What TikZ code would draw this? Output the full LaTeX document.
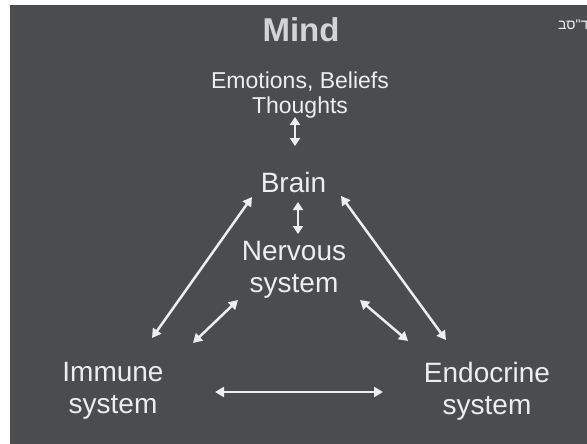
\documentclass[tikz,border=0pt]{standalone}
\usepackage{fontspec}
\setmainfont{Liberation Sans}
\newfontfamily\hebfont[Script=Hebrew]{Liberation Sans}
\usetikzlibrary{arrows.meta}
\definecolor{bgc}{HTML}{4B4C4E}
\definecolor{txc}{HTML}{EDEDED}
\definecolor{mindc}{HTML}{D4D4D4}
\tikzset{
  lbl/.style={text=txc, align=center, inner sep=0pt, font=\fontsize{28}{32}\selectfont},
  small/.style={text=txc, align=center, inner sep=0pt, font=\fontsize{23}{24.5}\selectfont},
  link/.style={draw=txc, line width=2.5pt, {Triangle[length=9pt,width=10pt]}-{Triangle[length=9pt,width=10pt]}},
  shortlink/.style={draw=txc, line width=2.8pt, {Triangle[length=8pt,width=10pt]}-{Triangle[length=8pt,width=10pt]}}
}
\begin{document}
\begin{tikzpicture}[x=1pt,y=-1pt]
\useasboundingbox (0,0) rectangle (587,444);
\clip (0,0) rectangle (587,444);
\fill[white] (0,0) rectangle (587,444);
\fill[bgc] (10,5) rectangle (590,450);

\node[text=mindc, inner sep=0pt, font=\fontsize{33}{36}\selectfont\bfseries] (mind) at (301,29.5) {Mind};
\node[small] (emo) at (300,95) {Emotions, Beliefs\\Thoughts};
\node[lbl] (brain) at (293.5,182) {Brain};
\node[lbl] (nerv) at (294,270) {Nervous\\system};
\node[lbl] (imm) at (113,391) {Immune\\system};
\node[lbl] (endo) at (487,391) {Endocrine\\system};
\node[text=txc, inner sep=0pt, anchor=west, font=\hebfont\fontsize{14}{16}\selectfont] (heb) at (558,25) {ד"סב};

\coordinate (e1) at (295,117);
\coordinate (e2) at (295,146);
\coordinate (b1) at (298,202);
\coordinate (b2) at (298,234);
\coordinate (l1) at (152,338);
\coordinate (l2) at (252,197);
\coordinate (s1) at (193,343);
\coordinate (s2) at (238,300);
\coordinate (r1) at (360,300);
\coordinate (r2) at (408,341);
\coordinate (t1) at (341,196);
\coordinate (t2) at (446,340);
\coordinate (h1) at (215,392);
\coordinate (h2) at (383,392);

\draw[shortlink] (e1) -- (e2);
\draw[shortlink] (b1) -- (b2);
\draw[link] (l1) -- (l2);
\draw[link] (s1) -- (s2);
\draw[link] (r1) -- (r2);
\draw[link] (t1) -- (t2);
\draw[link] (h1) -- (h2);
\end{tikzpicture}
\end{document}
